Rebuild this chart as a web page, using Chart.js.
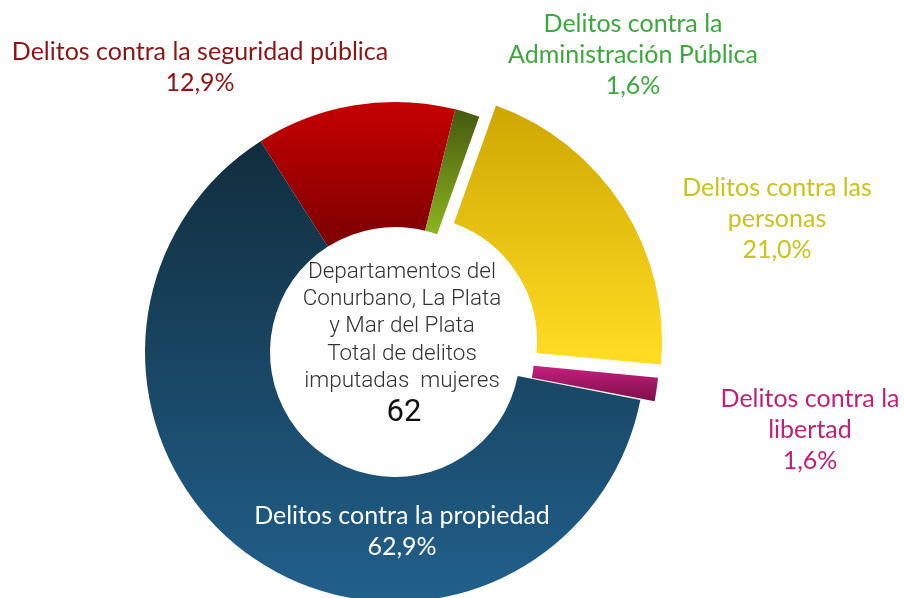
<!DOCTYPE html>
<html>
<head>
<meta charset="utf-8">
<script src="https://cdn.jsdelivr.net/npm/chart.js@4.4.0/dist/chart.umd.min.js"></script>
<style>
  html, body { margin: 0; padding: 0; overflow: hidden; background: #fff; width: 904px; height: 598px; }
  canvas { display: block; }
</style>
</head>
<body>
<canvas id="delitos_chart" width="904" height="704"></canvas>
<script>
// Delitos imputados a mujeres - distribucion por tipo

const categories = ['Delitos contra la seguridad pública', 'Delitos contra la Administración Pública',
                    'Delitos contra las personas', 'Delitos contra la libertad', 'Delitos contra la propiedad'];
const percents = [12.9, 1.6, 21.0, 1.6, 62.9];
const pctLabels = ['12,9%', '1,6%', '21,0%', '1,6%', '62,9%'];
const totalDelitos = 62;
const centerLines = ['Departamentos del', 'Conurbano, La Plata', 'y Mar del Plata', 'Total de delitos', 'imputadas  mujeres'];

// label line breaks, same order as categories
const labelLines = [
    ['Delitos contra la seguridad pública'],
    ['Delitos contra la', 'Administración Pública'],
    ['Delitos contra las', 'personas'],
    ['Delitos contra la', 'libertad'],
    ['Delitos contra la propiedad']
];

// styles
const gradColors = [
    ['#c60000', '#7c0000'],
    ['#465810', '#8cb520'],
    ['#cca400', '#ffdb22'],
    ['#c41f7d', '#780d47'],
    ['#112d3d', '#21608c']
];
const textColors = ['#8e1414', '#3ca83c', '#c9c31a', '#c01f78', '#ffffff'];
const labelPos = [{x: 200, y: 52}, {x: 633, y: 24}, {x: 777, y: 188}, {x: 810, y: 399}, {x: 402, y: 516}];
const offsets = [0, 0, 78, 30, 0];

const ctx_delitos = document.getElementById('delitos_chart').getContext('2d');

// vertical gradient per slice, from its own top to its own bottom
const gradientPlugin = {
    id: 'sliceGradient',
    beforeDatasetsDraw(chart) {
        const meta = chart.getDatasetMeta(0);
        meta.data.forEach((arc, i) => {
            const p = arc.getProps(['x', 'y', 'startAngle', 'endAngle', 'innerRadius', 'outerRadius']);
            const circ = p.endAngle - p.startAngle;
            const half = (p.startAngle + p.endAngle) / 2;
            const off = (offsets[i] || 0) / 4;
            const fix = 1 - Math.sin(Math.min(Math.PI, circ));
            const shiftY = Math.sin(half) * off * (1 + fix);
            let minY = Infinity, maxY = -Infinity;
            for (let k = 0; k <= 40; k++) {
                const a = p.startAngle + circ * k / 40;
                [p.innerRadius, p.outerRadius].forEach(r => {
                    const y = p.y + Math.sin(a) * r + shiftY;
                    minY = Math.min(minY, y);
                    maxY = Math.max(maxY, y);
                });
            }
            const g = chart.ctx.createLinearGradient(0, minY, 0, maxY);
            g.addColorStop(0, gradColors[i][0]);
            g.addColorStop(1, gradColors[i][1]);
            if (Object.isFrozen(arc.options)) {
                arc.options = Object.assign({}, arc.options, {backgroundColor: g});
            } else {
                arc.options.backgroundColor = g;
            }
        });
    }
};

const labelPlugin = {
    id: 'sliceLabels',
    afterDatasetsDraw(chart) {
        const c = chart.ctx;
        const meta = chart.getDatasetMeta(0);
        const cx = meta.data[0].x;
        c.save();
        c.textAlign = 'center';
        c.textBaseline = 'middle';
        c.font = '25px Lato';
        for (let i = 0; i < categories.length; i++) {
            c.fillStyle = textColors[i];
            const lines = labelLines[i].concat([pctLabels[i]]);
            lines.forEach((t, k) => {
                c.fillText(t, labelPos[i].x, labelPos[i].y + k * 31);
            });
        }
        // centre text
        c.fillStyle = '#333333';
        c.font = '300 22.5px Roboto';
        centerLines.forEach((t, k) => {
            c.fillText(t, cx + 7, 272 + k * 27.3);
        });
        c.fillStyle = '#111111';
        c.font = '31px Roboto';
        c.fillText(String(totalDelitos), cx + 9, 413);
        c.restore();
    }
};

const delitos_chart = new Chart(ctx_delitos, {
    type: 'doughnut',
    data: {
        labels: categories,
        datasets: [{
            data: percents,
            backgroundColor: (context) => gradColors[context.dataIndex][1],
            borderWidth: 0,
            offset: offsets,
            clip: false
        }]
    },
    options: {
        responsive: false,
        animation: false,
        events: [],
        rotation: -32.5,
        cutout: '50%',
        radius: 250,
        layout: { padding: { left: 0, right: 114, top: 0, bottom: 0 } },
        plugins: {
            legend: { display: false },
            tooltip: { enabled: false }
        }
    },
    plugins: [gradientPlugin, labelPlugin]
});
</script>
</body>
</html>
